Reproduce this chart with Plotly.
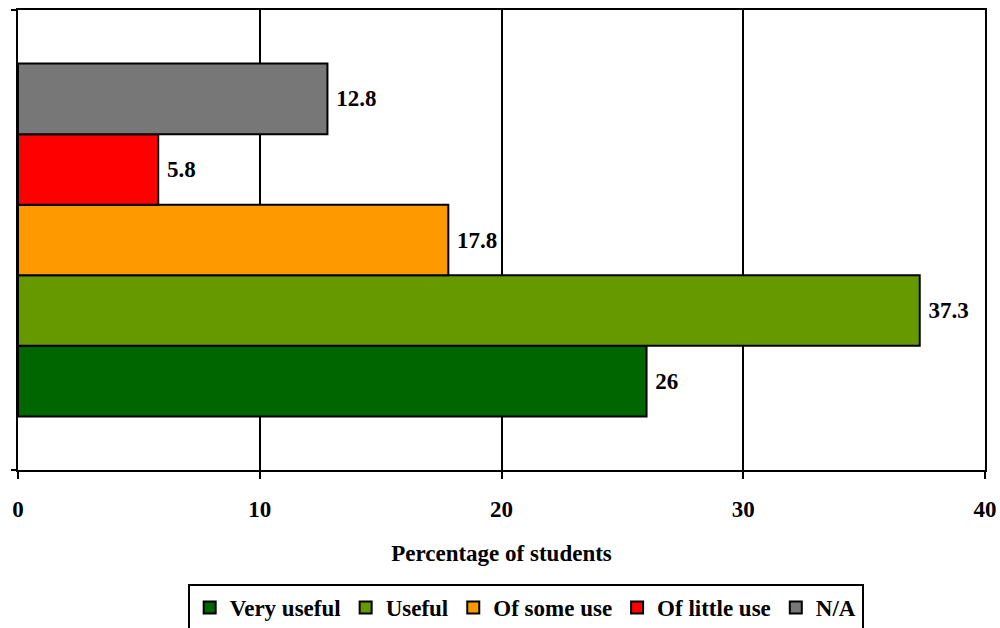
import plotly.graph_objects as go

# Survey responses: how useful students found the resource
categories = ["Very useful", "Useful", "Of some use", "Of little use", "N/A"]
percentages = [26, 37.3, 17.8, 5.8, 12.8]
colors = ["#006600", "#669900", "#FF9900", "#FF0000", "#777777"]
group_label = ["Students"]
x_ticks = [0, 10, 20, 30, 40]

FONT = "Liberation Serif"
SIZE = 23

fig = go.Figure()
for name, value, color in zip(categories, percentages, colors):
    fig.add_trace(go.Bar(
        name=name,
        x=[value],
        y=group_label,
        orientation="h",
        marker=dict(color=color, line=dict(color="black", width=2)),
        text=[value],
        texttemplate="&nbsp;%{x}",
        textposition="outside",
        textfont=dict(family=FONT, size=SIZE, color="black", weight="bold"),
        cliponaxis=False,
    ))

fig.update_layout(
    width=1000,
    height=628,
    margin=dict(l=18, r=15, t=10, b=158, autoexpand=False),
    paper_bgcolor="white",
    plot_bgcolor="white",
    barmode="group",
    bargap=0.233,
    bargroupgap=0,
    font=dict(family=FONT, size=SIZE, color="black", weight="bold"),
    showlegend=True,
    legend=dict(
        orientation="h",
        x=0.525,
        xanchor="center",
        yref="container",
        y=1 - 584 / 628,
        yanchor="top",
        bordercolor="black",
        borderwidth=2,
        font=dict(family=FONT, size=SIZE, color="black", weight="bold"),
        traceorder="normal",
        itemwidth=30,
    ),
    xaxis=dict(
        range=[0, 40],
        tickvals=x_ticks,
        automargin=False,
        showgrid=True,
        gridcolor="black",
        gridwidth=2,
        zeroline=False,
        showline=True,
        linecolor="black",
        linewidth=2,
        mirror=True,
        ticks="outside",
        ticklen=7,
        tickwidth=2,
        tickcolor="black",
        ticklabelstandoff=10,
        tickfont=dict(family=FONT, size=SIZE, color="black", weight="bold"),
        title=dict(text="Percentage of students", standoff=24,
                   font=dict(family=FONT, size=SIZE, color="black", weight="bold")),
    ),
    yaxis=dict(
        showticklabels=False,
        showgrid=False,
        zeroline=False,
        showline=True,
        linecolor="black",
        linewidth=2,
        mirror=True,
        ticks="",
        automargin=False,
    ),
)

# Category-boundary ticks on the left axis (top and bottom of the plot area)
for yy in (0, 1):
    fig.add_shape(type="line", xref="paper", yref="paper",
                  x0=-7 / 967, x1=0, y0=yy, y1=yy,
                  line=dict(color="black", width=2))

fig.write_html("out.html")
